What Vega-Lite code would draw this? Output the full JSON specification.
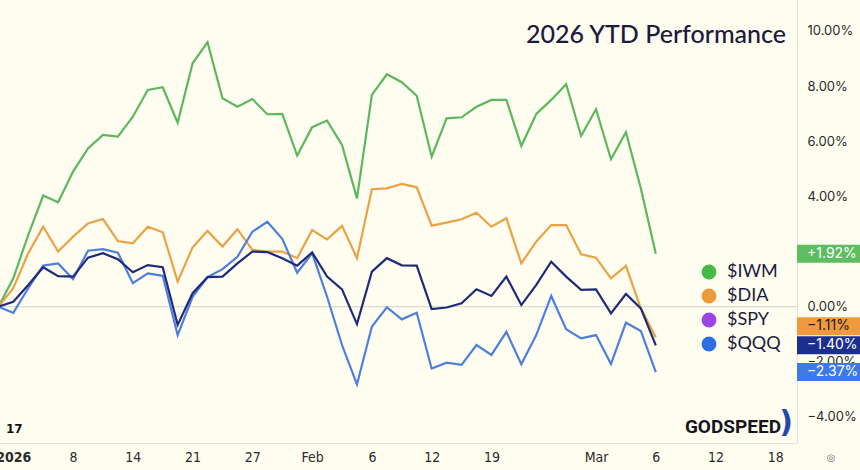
{
  "$schema": "https://vega.github.io/schema/vega-lite/v6.json",
  "width": 797,
  "height": 443,
  "autosize": {"type": "none"},
  "padding": {"left": 0, "top": 0, "right": 63, "bottom": 27},
  "background": "#fefdf0",
  "config": {
    "view": {"stroke": null},
    "font": "Inter"
  },
  "title": {
    "text": "2026 YTD Performance",
    "anchor": "end",
    "frame": "group",
    "orient": "top",
    "offset": 0,
    "baseline": "alphabetic",
    "dy": 68,
    "dx": -11,
    "font": "Lato",
    "fontSize": 25,
    "fontWeight": 500,
    "color": "#1c1a3e"
  },
  "datasets": {
    "ytd": [
      {"i": -1, "date": "2025-12-31", "IWM": 0, "DIA": 0, "SPY": 0, "QQQ": 0},
      {"i": 0, "date": "2026-01-02", "IWM": 1.03, "DIA": 0.67, "SPY": 0.18, "QQQ": -0.22},
      {"i": 1, "date": "2026-01-05", "IWM": 2.6, "DIA": 1.94, "SPY": 0.79, "QQQ": 0.67},
      {"i": 2, "date": "2026-01-06", "IWM": 4.03, "DIA": 2.9, "SPY": 1.43, "QQQ": 1.49},
      {"i": 3, "date": "2026-01-07", "IWM": 3.79, "DIA": 2.0, "SPY": 1.11, "QQQ": 1.57},
      {"i": 4, "date": "2026-01-08", "IWM": 4.9, "DIA": 2.54, "SPY": 1.09, "QQQ": 1.0},
      {"i": 5, "date": "2026-01-09", "IWM": 5.74, "DIA": 3.02, "SPY": 1.78, "QQQ": 2.03},
      {"i": 6, "date": "2026-01-12", "IWM": 6.23, "DIA": 3.18, "SPY": 1.94, "QQQ": 2.09},
      {"i": 7, "date": "2026-01-13", "IWM": 6.17, "DIA": 2.38, "SPY": 1.72, "QQQ": 1.96},
      {"i": 8, "date": "2026-01-14", "IWM": 6.89, "DIA": 2.3, "SPY": 1.25, "QQQ": 0.85},
      {"i": 9, "date": "2026-01-15", "IWM": 7.86, "DIA": 2.9, "SPY": 1.51, "QQQ": 1.21},
      {"i": 10, "date": "2026-01-16", "IWM": 7.96, "DIA": 2.7, "SPY": 1.43, "QQQ": 1.12},
      {"i": 11, "date": "2026-01-20", "IWM": 6.67, "DIA": 0.91, "SPY": -0.66, "QQQ": -1.03},
      {"i": 12, "date": "2026-01-21", "IWM": 8.83, "DIA": 2.15, "SPY": 0.49, "QQQ": 0.36},
      {"i": 13, "date": "2026-01-22", "IWM": 9.59, "DIA": 2.75, "SPY": 1.07, "QQQ": 1.07},
      {"i": 14, "date": "2026-01-23", "IWM": 7.56, "DIA": 2.18, "SPY": 1.09, "QQQ": 1.36},
      {"i": 15, "date": "2026-01-26", "IWM": 7.25, "DIA": 2.81, "SPY": 1.57, "QQQ": 1.81},
      {"i": 16, "date": "2026-01-27", "IWM": 7.53, "DIA": 2.06, "SPY": 2.0, "QQQ": 2.72},
      {"i": 17, "date": "2026-01-28", "IWM": 6.98, "DIA": 2.0, "SPY": 1.98, "QQQ": 3.08},
      {"i": 18, "date": "2026-01-29", "IWM": 6.99, "DIA": 2.0, "SPY": 1.76, "QQQ": 2.46},
      {"i": 19, "date": "2026-01-30", "IWM": 5.48, "DIA": 1.76, "SPY": 1.49, "QQQ": 1.23},
      {"i": 20, "date": "2026-02-02", "IWM": 6.51, "DIA": 2.78, "SPY": 1.97, "QQQ": 1.94},
      {"i": 21, "date": "2026-02-03", "IWM": 6.75, "DIA": 2.44, "SPY": 1.09, "QQQ": 0.36},
      {"i": 22, "date": "2026-02-04", "IWM": 5.87, "DIA": 2.93, "SPY": 0.63, "QQQ": -1.39},
      {"i": 23, "date": "2026-02-05", "IWM": 3.93, "DIA": 1.76, "SPY": -0.63, "QQQ": -2.82},
      {"i": 24, "date": "2026-02-06", "IWM": 7.68, "DIA": 4.26, "SPY": 1.27, "QQQ": -0.72},
      {"i": 25, "date": "2026-02-09", "IWM": 8.43, "DIA": 4.29, "SPY": 1.76, "QQQ": -0.02},
      {"i": 26, "date": "2026-02-10", "IWM": 8.14, "DIA": 4.45, "SPY": 1.5, "QQQ": -0.46},
      {"i": 27, "date": "2026-02-11", "IWM": 7.65, "DIA": 4.33, "SPY": 1.49, "QQQ": -0.22},
      {"i": 28, "date": "2026-02-12", "IWM": 5.44, "DIA": 2.94, "SPY": -0.09, "QQQ": -2.24},
      {"i": 29, "date": "2026-02-13", "IWM": 6.83, "DIA": 3.05, "SPY": -0.03, "QQQ": -2.03},
      {"i": 30, "date": "2026-02-17", "IWM": 6.87, "DIA": 3.17, "SPY": 0.12, "QQQ": -2.11},
      {"i": 31, "date": "2026-02-18", "IWM": 7.25, "DIA": 3.41, "SPY": 0.63, "QQQ": -1.39},
      {"i": 32, "date": "2026-02-19", "IWM": 7.5, "DIA": 2.9, "SPY": 0.39, "QQQ": -1.75},
      {"i": 33, "date": "2026-02-20", "IWM": 7.5, "DIA": 3.21, "SPY": 1.09, "QQQ": -0.91},
      {"i": 34, "date": "2026-02-23", "IWM": 5.83, "DIA": 1.57, "SPY": 0.06, "QQQ": -2.09},
      {"i": 35, "date": "2026-02-24", "IWM": 6.99, "DIA": 2.36, "SPY": 0.79, "QQQ": -1.03},
      {"i": 36, "date": "2026-02-25", "IWM": 7.5, "DIA": 2.96, "SPY": 1.63, "QQQ": 0.39},
      {"i": 37, "date": "2026-02-26", "IWM": 8.07, "DIA": 2.96, "SPY": 1.09, "QQQ": -0.82},
      {"i": 38, "date": "2026-02-27", "IWM": 6.19, "DIA": 1.9, "SPY": 0.61, "QQQ": -1.15},
      {"i": 39, "date": "2026-03-02", "IWM": 7.16, "DIA": 1.78, "SPY": 0.63, "QQQ": -1.03},
      {"i": 40, "date": "2026-03-03", "IWM": 5.35, "DIA": 1.03, "SPY": -0.24, "QQQ": -2.08},
      {"i": 41, "date": "2026-03-04", "IWM": 6.33, "DIA": 1.48, "SPY": 0.46, "QQQ": -0.58},
      {"i": 42, "date": "2026-03-05", "IWM": 4.29, "DIA": -0.06, "SPY": -0.06, "QQQ": -0.88},
      {"i": 43, "date": "2026-03-06", "IWM": 1.92, "DIA": -1.11, "SPY": -1.4, "QQQ": -2.37}
    ]
  },
  "layer": [
    {
      "data": {"values": [{"level": 0}]},
      "mark": {"type": "rule", "color": "#d6d5c8", "strokeWidth": 1},
      "encoding": {"y": {"field": "level", "type": "quantitative"}}
    },
    {
      "data": {"name": "ytd"},
      "transform": [{"fold": ["IWM", "DIA", "QQQ", "SPY"], "as": ["t", "v"]}],
      "mark": {"type": "line", "strokeWidth": 2.2, "strokeJoin": "miter", "clip": false},
      "encoding": {
        "x": {
          "field": "i",
          "type": "quantitative",
          "scale": {"domain": [-0.89, 52.45], "nice": false, "zero": false},
          "axis": {
            "orient": "bottom",
            "title": null,
            "grid": false,
            "ticks": false,
            "domainColor": "#e4e3d6",
            "values": [0, 4, 8, 12, 16, 20, 24, 28, 32, 39, 43, 47, 51],
            "labelExpr": "['2026','8','14','21','27','Feb','6','12','19','Mar','6','12','18'][indexof([0,4,8,12,16,20,24,28,32,39,43,47,51], datum.value)]",
            "labelFont": "Liberation Sans Narrow, DejaVu Sans Condensed, sans-serif",
            "labelFontSize": 14,
            "labelColor": "#2b2b2b",
            "labelFontWeight": {"condition": {"test": "datum.value === 0", "value": "bold"}, "value": "normal"},
            "labelPadding": 7,
            "labelOverlap": false,
            "labelFlush": false
          }
        },
        "y": {
          "field": "v",
          "type": "quantitative",
          "scale": {"domain": [-4.944, 11.124], "nice": false, "zero": false},
          "axis": {
            "orient": "right",
            "title": null,
            "grid": false,
            "ticks": false,
            "domainColor": "#e4e3d6",
            "values": [-4, -2, 0, 4, 6, 8, 10],
            "labelExpr": "format(datum.value, '.2f') + '%'",
            "labelFont": "Inter",
            "labelFontSize": 13,
            "labelColor": "#2b2b2b",
            "labelPadding": 10
          }
        },
        "stroke": {
          "field": "t",
          "type": "nominal",
          "scale": {"domain": ["IWM", "DIA", "QQQ", "SPY"], "range": ["#5cb85f", "#eaa244", "#4f7fdd", "#1f2b7a"]},
          "legend": null
        },
        "order": {"field": "i", "type": "quantitative"}
      }
    },
    {
      "data": {"name": "ytd"},
      "transform": [
        {"filter": "datum.i === 43"},
        {"fold": ["IWM", "DIA", "SPY", "QQQ"], "as": ["t", "v"]}
      ],
      "mark": {"type": "point", "opacity": 0},
      "encoding": {
        "x": {"field": "i", "type": "quantitative"},
        "y": {"field": "v", "type": "quantitative"},
        "fill": {
          "field": "t",
          "type": "nominal",
          "scale": {"domain": ["IWM", "DIA", "SPY", "QQQ"], "range": ["#46b946", "#ec9a3a", "#9c45e6", "#2f6ee0"]},
          "legend": {
            "orient": "none",
            "legendX": 700,
            "legendY": 263,
            "title": null,
            "symbolType": "circle",
            "symbolSize": 220,
            "symbolOpacity": 1,
            "symbolStrokeWidth": 0,
            "labelExpr": "'$' + datum.label",
            "labelFont": "Lato",
            "labelFontSize": 18,
            "labelColor": "#1c1a3e",
            "labelOffset": 9,
            "rowPadding": 6
          }
        }
      }
    },
    {
      "data": {"name": "ytd"},
      "transform": [
        {"filter": "datum.i === 43"},
        {"fold": ["IWM", "DIA", "QQQ", "SPY"], "as": ["t", "v"]}
      ],
      "mark": {
        "type": "rect",
        "height": 18,
        "x": {"expr": "width"},
        "x2": {"expr": "width + 63"},
        "yOffset": {"expr": "datum.t === 'DIA' ? -11 : 0"},
        "clip": false
      },
      "encoding": {
        "y": {"field": "v", "type": "quantitative"},
        "color": {
          "field": "t",
          "type": "nominal",
          "scale": {"domain": ["IWM", "DIA", "QQQ", "SPY"], "range": ["#5dbd60", "#f09a3c", "#3d7ae6", "#1c2f8f"]},
          "legend": null
        }
      }
    },
    {
      "data": {"name": "ytd"},
      "transform": [
        {"filter": "datum.i === 43"},
        {"fold": ["IWM", "DIA", "QQQ", "SPY"], "as": ["t", "v"]},
        {"calculate": "format(datum.v, '+.2f') + '%'", "as": "badge"}
      ],
      "mark": {
        "type": "text",
        "align": "left",
        "baseline": "middle",
        "x": {"expr": "width + 10"},
        "yOffset": {"expr": "datum.t === 'DIA' ? -11 : 0"},
        "font": "Inter",
        "fontSize": 14,
        "clip": false
      },
      "encoding": {
        "y": {"field": "v", "type": "quantitative"},
        "text": {"field": "badge"},
        "color": {"condition": {"test": "datum.t === 'DIA'", "value": "#1a1a1a"}, "value": "#ffffff"}
      }
    },
    {
      "data": {"values": [{"brand": "GODSPEED", "arc": ")"}]},
      "layer": [
        {
          "mark": {
            "type": "text",
            "align": "right",
            "baseline": "alphabetic",
            "x": {"expr": "width - 16"},
            "y": {"expr": "height - 10"},
            "font": "Roboto",
            "fontWeight": "bold",
            "fontSize": 19,
            "color": "#15151f"
          },
          "encoding": {"text": {"field": "brand"}}
        },
        {
          "mark": {
            "type": "text",
            "align": "center",
            "baseline": "middle",
            "x": {"expr": "width - 11"},
            "y": {"expr": "height - 20"},
            "font": "DejaVu Sans",
            "fontWeight": "bold",
            "fontSize": 30,
            "color": "#2447a8"
          },
          "encoding": {"text": {"field": "arc"}}
        }
      ]
    },
    {
      "data": {"values": [{"logo": "17", "icon": "◎"}]},
      "layer": [
        {
          "mark": {
            "type": "text",
            "align": "left",
            "baseline": "alphabetic",
            "x": 6,
            "y": {"expr": "height - 10"},
            "font": "DejaVu Sans",
            "fontWeight": "bold",
            "fontSize": 12,
            "color": "#111111"
          },
          "encoding": {"text": {"field": "logo"}}
        },
        {
          "mark": {
            "type": "text",
            "align": "center",
            "baseline": "middle",
            "x": {"expr": "width + 34"},
            "y": {"expr": "height + 15"},
            "font": "DejaVu Sans",
            "fontSize": 10,
            "color": "#777777",
            "clip": false
          },
          "encoding": {"text": {"field": "icon"}}
        }
      ]
    }
  ]
}
